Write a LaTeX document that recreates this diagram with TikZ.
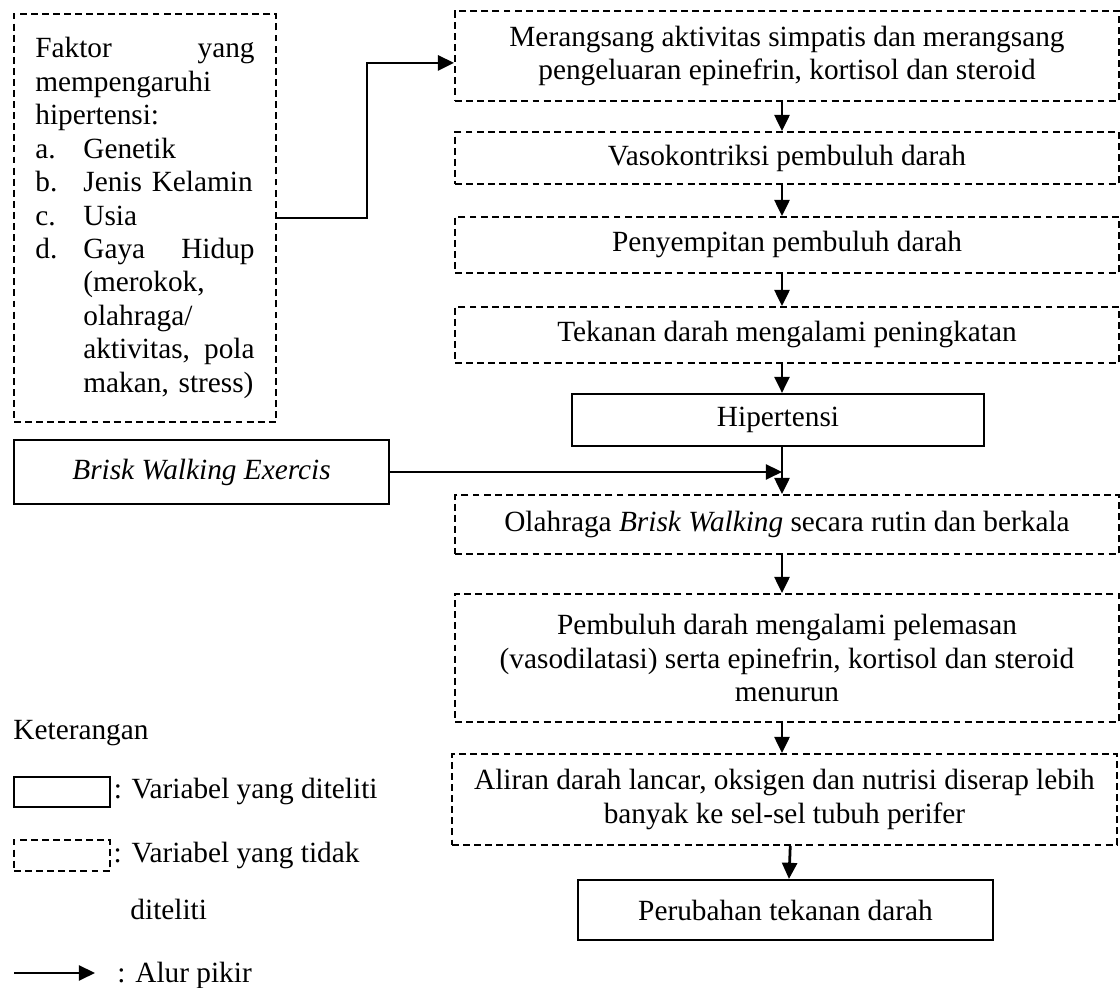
\documentclass[tikz,border=0pt]{standalone}
\usepackage{fontspec}
\setmainfont{Liberation Serif}
\usetikzlibrary{arrows.meta}
\newcommand{\pxu}{0.4333pt}
\newcommand{\itemlbl}[1]{\makebox[20.8pt][l]{#1}}
\newcommand{\itemind}{\hspace*{20.8pt}}
\tikzset{
  dbox/.style={draw, dash pattern=on 3pt off 1.8pt, line width=0.8pt, align=center, inner sep=2pt},
  sbox/.style={draw, line width=0.9pt, align=center, inner sep=2pt},
  arw/.style={line width=1.2pt, -{Triangle[length=7pt,width=6.5pt]}},
}
\begin{document}
\begin{tikzpicture}[x=0.4333pt,y=-0.4333pt,font=\fontsize{12.7pt}{14.5pt}\selectfont]
\useasboundingbox (0,0) rectangle (1120,988);
\coordinate (axis) at (782,0);

\node[dbox, minimum width=262*\pxu, minimum height=408*\pxu, text width=95pt, align=left] (faktor) at (145,218)
  {\makebox[\linewidth]{Faktor\hfill yang}\\
   mempengaruhi\\
   hipertensi:\\
   \itemlbl{a.}Genetik\\
   \itemlbl{b.}Jenis Kelamin\\
   \itemlbl{c.}Usia\\
   \itemlbl{d.}\makebox[\dimexpr\linewidth-20.8pt]{Gaya\hfill Hidup}\\
   \itemind(merokok,\\
   \itemind olahraga/\\
   \itemind\makebox[\dimexpr\linewidth-20.8pt]{aktivitas,\hfill pola}\\
   \itemind makan, stress)};
\node[sbox, minimum width=375*\pxu, minimum height=64*\pxu] (brisk) at (201.5,472) {\textit{Brisk Walking Exercis}};

\node[dbox, minimum width=664*\pxu, minimum height=90*\pxu] (rangsang) at (787,56)
  {Merangsang aktivitas simpatis dan merangsang\\pengeluaran epinefrin, kortisol dan steroid};
\node[dbox, minimum width=664*\pxu, minimum height=52*\pxu] (vaso) at (787,158) {Vasokontriksi pembuluh darah};
\node[dbox, minimum width=664*\pxu, minimum height=56*\pxu] (sempit) at (787,245) {Penyempitan pembuluh darah};
\node[dbox, minimum width=664*\pxu, minimum height=56*\pxu] (tekanan) at (787,335) {Tekanan darah mengalami peningkatan};
\node[sbox, minimum width=412*\pxu, minimum height=52*\pxu] (hipt) at (778,420) {Hipertensi};
\node[dbox, minimum width=664*\pxu, minimum height=59*\pxu] (olah) at (787,524.5)
  {Olahraga \textit{Brisk Walking} secara rutin dan berkala};
\node[dbox, minimum width=664*\pxu, minimum height=128*\pxu] (lemas) at (787,658)
  {Pembuluh darah mengalami pelemasan\\(vasodilatasi) serta epinefrin, kortisol dan steroid\\menurun};
\node[dbox, minimum width=665*\pxu, minimum height=91*\pxu] (aliran) at (784.5,799.5)
  {Aliran darah lancar, oksigen dan nutrisi diserap lebih\\banyak ke sel-sel tubuh perifer};
\node[sbox, minimum width=415*\pxu, minimum height=60*\pxu] (ubah) at (785.5,910) {Perubahan tekanan darah};

\draw[arw] (faktor.east) -- ++(90,0) |- ([yshift=-3pt]rangsang.west);
\draw[arw] (rangsang.south -| axis) -- (vaso.north -| axis);
\draw[arw] (vaso.south -| axis) -- (sempit.north -| axis);
\draw[arw] (sempit.south -| axis) -- (tekanan.north -| axis);
\draw[arw] (tekanan.south -| axis) -- (hipt.north -| axis);
\draw[arw] (hipt.south -| axis) -- (olah.north -| axis);
\draw[arw] (brisk.east) -- (brisk.east -| axis);
\draw[arw] (olah.south -| axis) -- (lemas.north -| axis);
\draw[arw] (lemas.south -| axis) -- (aliran.north -| axis);
\draw[arw] ([xshift=2.5pt]aliran.south) -- ([xshift=1.5pt]ubah.north);

\node[anchor=base west, inner sep=0] (ket) at (13,740) {Keterangan};
\node[sbox, minimum width=96*\pxu, minimum height=30*\pxu, inner sep=0] (lgsolid) at (62,792) {};
\node[anchor=west, inner sep=1pt] (lgsolidtxt) at (lgsolid.east) {: Variabel yang diteliti};
\node[dbox, minimum width=96*\pxu, minimum height=31*\pxu, inner sep=0] (lgdash) at (62,855.5) {};
\node[anchor=west, inner sep=1pt] (lgdashtxt) at (lgdash.east) {: Variabel yang tidak};
\node[anchor=base west, inner sep=0] (lgdashtxtb) at (130,920) {diteliti};
\coordinate (lgarrA) at (14,973);
\coordinate (lgarrB) at (95,973);
\draw[arw] (lgarrA) -- (lgarrB);
\node[anchor=west, inner sep=0] (lgarrtxt) at (117,975) {: Alur pikir};
\end{tikzpicture}
\end{document}
